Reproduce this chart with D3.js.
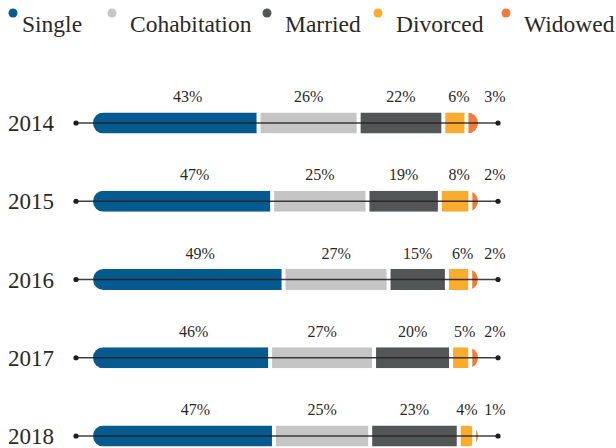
<!DOCTYPE html>
<html>
<head>
<meta charset="utf-8">
<script src="https://cdn.jsdelivr.net/npm/d3@7"></script>
<style>
    body { margin: 0; background: #fff; }
    text { font-family: "Liberation Serif", "DejaVu Serif", serif; fill: #2b291f; }
</style>
</head>
<body>
<div id="chart"></div>
<script>
// data
const years = ["2014", "2015", "2016", "2017", "2018"];
const categories = ["Single", "Cohabitation", "Married", "Divorced", "Widowed"];
const single = [43, 47, 49, 46, 47];
const cohabitation = [26, 25, 27, 27, 25];
const married = [22, 19, 15, 20, 23];
const divorced = [6, 8, 6, 5, 4];
const widowed = [3, 2, 2, 2, 1];
const colors = ["#055b8f", "#c4c5c4", "#535657", "#fbab2e", "#f07c3b"];

const series = [single, cohabitation, married, divorced, widowed];

const width = 616, height = 448;
const barLeft = 93, barRight = 478, barH = 21;
const lineLeft = 76, lineRight = 498;
const legendX = [22, 130, 285, 396, 524];

const svg = d3.select("#chart").append("svg")
    .attr("width", width)
    .attr("height", height);

// legend
const legend = svg.append("g").attr("class", "legend");
categories.forEach((c, i) => {
    legend.append("circle")
        .attr("cx", legendX[i] - (i === 0 ? 9 : 18))
        .attr("cy", 13)
        .attr("r", 4.5)
        .attr("fill", colors[i]);
    legend.append("text")
        .attr("x", legendX[i])
        .attr("y", 32)
        .attr("font-size", 23.5)
        .text(c);
});

// one row per year
const y = d3.scalePoint()
    .domain(years)
    .range([123, 436]);

const defs = svg.append("defs");

years.forEach((yr, r) => {
    const vals = series.map(s => s[r]);
    const total = d3.sum(vals);
    const x = d3.scaleLinear().domain([0, total]).range([barLeft, barRight]);
    const cy = y(yr);
    const row = svg.append("g").attr("class", "row");

    // rounded clip for the whole bar
    defs.append("clipPath").attr("id", "clip" + r)
        .append("rect")
        .attr("x", barLeft)
        .attr("y", cy - barH / 2)
        .attr("width", barRight - barLeft)
        .attr("height", barH)
        .attr("rx", barH / 2);

    let acc = 0;
    const segs = vals.map((v, i) => {
        const s = {i: i, v: v, x0: x(acc), x1: x(acc + v)};
        acc += v;
        return s;
    });

    // 4px white gap between segments
    row.append("g")
        .attr("clip-path", "url(#clip" + r + ")")
        .selectAll("rect")
        .data(segs)
        .enter()
        .append("rect")
        .attr("x", d => d.x0 + (d.i === 0 ? 0 : 2))
        .attr("y", cy - barH / 2)
        .attr("width", d => Math.max(0, d.x1 - d.x0 - (d.i === 0 || d.i === 4 ? 2 : 4)))
        .attr("height", barH)
        .attr("fill", d => colors[d.i]);

    // axis line over the bar
    row.append("line")
        .attr("x1", lineLeft).attr("x2", lineRight)
        .attr("y1", cy).attr("y2", cy)
        .attr("stroke", "#1e1e1e")
        .attr("stroke-opacity", 0.85)
        .attr("stroke-width", 1.5);
    [lineLeft, lineRight].forEach(px => {
        row.append("circle")
            .attr("cx", px).attr("cy", cy).attr("r", 2.6)
            .attr("fill", "#1e1e1e");
    });

    // percent labels
    row.selectAll("text.pct")
        .data(segs)
        .enter()
        .append("text")
        .attr("class", "pct")
        .attr("x", d => {
            if (d.i === 4) return x(total) + 17;
            if (d.i === 3) return Math.min((d.x0 + d.x1) / 2 + 4, x(total) - 11);
            if (d.i === 0) return (d.x0 + d.x1) / 2 + 12;
            return (d.x0 + d.x1) / 2;
        })
        .attr("y", cy - 21)
        .attr("text-anchor", "middle")
        .attr("font-size", 16)
        .text(d => d.v + "%");

    // year label
    row.append("text")
        .attr("x", 8)
        .attr("y", cy + 8)
        .attr("font-size", 23)
        .text(yr);
});
</script>
</body>
</html>
